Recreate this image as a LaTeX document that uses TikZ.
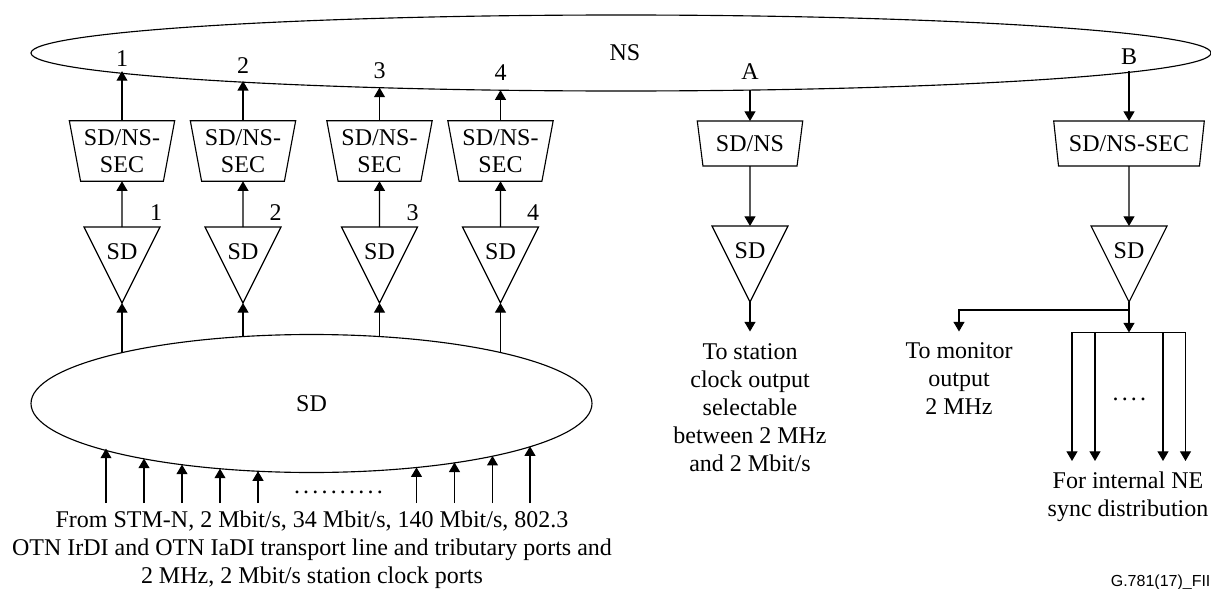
\documentclass[tikz,border=0pt]{standalone}
\usepackage{fontspec}
\setmainfont{Liberation Serif}
\newfontfamily\labelfont{Liberation Sans}
\usetikzlibrary{arrows.meta,positioning,shapes.geometric}

\newcommand{\spdots}[1]{\foreach \k in {1,...,#1}{.\kern2.4pt}\unskip}

\begin{document}
\begin{tikzpicture}[x=0.75pt,y=-0.75pt,line width=0.85pt,>={Triangle[length=7.2pt,width=8.2pt]},
  txt/.style={align=center,inner sep=0pt,font=\fontsize{18}{21}\selectfont},
  bigell/.style={draw,ellipse,inner sep=0pt,outer sep=0pt,font=\fontsize{18}{21}\selectfont},
  sec/.style={draw,trapezium,trapezium stretches=true,shape border rotate=180,inner sep=0pt,outer sep=0pt,align=center,minimum width=79.5pt,minimum height=45.4pt,trapezium angle=76.5,font=\fontsize{18}{20.25}\selectfont},
  secs/.style={sec,minimum height=33.75pt,trapezium angle=75.7},
  tri/.style={draw,isosceles triangle,isosceles triangle stretches=true,shape border rotate=-90,inner sep=0pt,outer sep=0pt,minimum width=57pt,minimum height=57pt,anchor=apex,text height=20pt,font=\fontsize{18}{21}\selectfont}]
\useasboundingbox (0,0) rectangle (1211,589);
\node[bigell,minimum width=885pt,minimum height=57pt] (ns) at (621,53) {\hspace{6pt}NS};
\node[bigell,minimum width=420.75pt,minimum height=103.5pt] (sd) at (311.5,403.5) {SD};
\node[tri] (t1) at (122,303) {SD};
\node[tri] (t2) at (243,303) {SD};
\node[tri] (t3) at (379.5,303) {SD};
\node[tri] (t4) at (500.5,303) {SD};
\node[tri] (ta) at (750,302) {SD};
\node[tri] (tb) at (1129,302) {SD};
\node[sec] (s1) at (122,151) {SD/NS-\\SEC};
\node[sec] (s2) at (243,151) {SD/NS-\\SEC};
\node[sec] (s3) at (379.5,151) {SD/NS-\\SEC};
\node[sec] (s4) at (500.5,151) {SD/NS-\\SEC};
\node[secs] (sa) at (750,143.5) {SD/NS};
\node[secs,minimum width=114pt] (sb) at (1129,143.5) {SD/NS-SEC};
% labels
\node[txt] (l1) at (122,59) {1};
\node[txt] (l2) at (243,66) {2};
\node[txt] (l3) at (379.5,71) {3};
\node[txt] (l4) at (500.5,73) {4};
\node[txt] (la) at (750,72) {A};
\node[txt] (lb) at (1129,57) {B};
\node[txt] (n1) at (156,213) {1};
\node[txt] (n2) at (275.5,213) {2};
\node[txt] (n3) at (412.5,213) {3};
\node[txt] (n4) at (533,213) {4};
\node[txt] (outa) at (750,407.5) {To station\\ clock output\\ selectable\\ between 2 MHz\\ and 2 Mbit/s};
\node[txt] (outm) at (959,379) {To monitor\\ output\\ 2 MHz};
\node[txt] (outi) at (1128,497) {For internal NE\\ sync distribution};
\node[txt] (from) at (312,550) {From STM-N, 2 Mbit/s, 34 Mbit/s, 140 Mbit/s, 802.3\\ OTN IrDI and OTN IaDI transport line and tributary ports and\\ 2 MHz, 2 Mbit/s station clock ports};
\node[txt] (dotsin) at (340,492) {\spdots{10}};
\node[txt] (dotsi) at (1131,399) {\spdots{4}};
\node[inner sep=0pt,font=\labelfont\fontsize{12}{14}\selectfont,anchor=east] (fig) at (1211,582) {G.781(17)\_FII};
% upward chains
\draw[->] (s1.north) -- (s1.north |- ns.182.33);
\draw[->] (s2.north) -- (s2.north |- ns.184.42);
\draw[->] (s3.north) -- (s3.north |- ns.188.18);
\draw[->] (s4.north) -- (s4.north |- ns.197.17);
\draw[->] (t1.north) -- (s1.south);
\draw[->] (t2.north) -- (s2.south);
\draw[->] (t3.north) -- (s3.south);
\draw[->] (t4.north) -- (s4.south);
\draw[->] (t1.apex |- sd.165) -- (t1.apex);
\draw[->] (t2.apex |- sd.135.7) -- (t2.apex);
\draw[->] (t3.apex |- sd.44.8) -- (t3.apex);
\draw[->] (t4.apex |- sd.15.2) -- (t4.apex);
% A and B outputs
\draw[->] (sa.north |- ns.-16.05) -- (sa.north);
\draw[->] (sb.north |- ns.-2.18) -- (sb.north);
\draw[->] (sa.south) -- (ta.north);
\draw[->] (sb.south) -- (tb.north);
\coordinate (enda) at (750,331.5);
\draw[->] (ta.apex) -- (enda);
\coordinate (forkb) at (1129,310);
\coordinate (endm) at (959,331.5);
\coordinate (barb) at (1129,332.5);
\draw[->] (tb.apex) -- (barb);
\draw[->] (forkb) -| (endm);
\coordinate (i1) at (1072,461);
\coordinate (i2) at (1095,461);
\coordinate (i3) at (1163,461);
\coordinate (i4) at (1185.5,461);
\draw[->] (barb) -| (i1);
\draw[->] (barb) -| (i2);
\draw[->] (barb) -| (i3);
\draw[->] (barb) -| (i4);
% inputs
\coordinate (a1) at (106,503);
\coordinate (a2) at (144,503);
\coordinate (a3) at (182,503);
\coordinate (a4) at (220,503);
\coordinate (a5) at (258,503);
\coordinate (a6) at (416.5,503);
\coordinate (a7) at (454.5,503);
\coordinate (a8) at (492.5,503);
\coordinate (a9) at (530,503);
\draw[->] (a1) -- (a1 |- sd.192.9);
\draw[->] (a2) -- (a2 |- sd.198.3);
\draw[->] (a3) -- (a3 |- sd.205.3);
\draw[->] (a4) -- (a4 |- sd.215.5);
\draw[->] (a5) -- (a5 |- sd.231.7);
\draw[->] (a6) -- (a6 |- sd.-31.3);
\draw[->] (a7) -- (a7 |- sd.-22.5);
\draw[->] (a8) -- (a8 |- sd.-16.2);
\draw[->] (a9) -- (a9 |- sd.-11.2);
\end{tikzpicture}
\end{document}
